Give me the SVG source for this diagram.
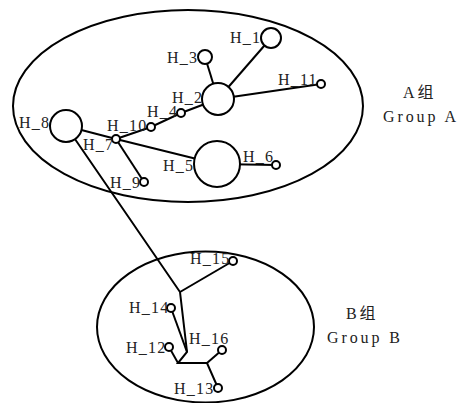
<svg xmlns="http://www.w3.org/2000/svg" width="459" height="403" viewBox="0 0 459 403">
<style>
.grp{fill:none;stroke:#000;stroke-width:2}
.e{stroke:#000;stroke-width:2;fill:none}
.n{fill:#fff;stroke:#000;stroke-width:2}
text{font-family:'Liberation Serif','Noto Sans CJK SC',serif;font-size:16px;fill:#222}
.l{letter-spacing:1.2px}
.g{letter-spacing:2.9px}
</style>
<rect width="459" height="403" fill="#fff"/>
<g id="groupA"><ellipse class="grp" cx="188" cy="106" rx="175" ry="96"/>
<text class="g" x="403" y="98">A组</text><text class="g" x="383" y="122">Group A</text></g>
<g id="groupB"><ellipse class="grp" cx="205.5" cy="327" rx="108.5" ry="75.5"/>
<text class="g" x="346" y="319">B组</text><text class="g" x="327" y="343">Group B</text></g>
<g id="connectors">
<line class="e" x1="218" y1="99" x2="271" y2="38"/>
<line class="e" x1="218" y1="99" x2="205" y2="57"/>
<line class="e" x1="218" y1="99" x2="321" y2="84"/>
<polyline class="e" points="218,99 181,113 151,127 116,139"/>
<line class="e" x1="116" y1="139" x2="66" y2="126"/>
<line class="e" x1="116" y1="139" x2="217" y2="164"/>
<line class="e" x1="116" y1="139" x2="144" y2="182"/>
<line class="e" x1="217" y1="164" x2="276" y2="165"/>
<polyline class="e" points="66,126 180,292 187,352 178,363 207,363 218,388"/>
<line class="e" x1="180" y1="292" x2="233" y2="261"/>
<line class="e" x1="187" y1="352" x2="171" y2="308"/>
<line class="e" x1="178" y1="363" x2="169" y2="347"/>
<line class="e" x1="207" y1="363" x2="222" y2="350"/>
</g>
<g id="H_1"><circle class="n" cx="271" cy="38" r="10"/><text class="l" x="230" y="43">H_1</text></g>
<g id="H_2"><circle class="n" cx="218" cy="99" r="16"/><text class="l" x="172" y="103">H_2</text></g>
<g id="H_3"><circle class="n" cx="205" cy="57" r="7"/><text class="l" x="167" y="63">H_3</text></g>
<g id="H_4"><circle class="n" cx="181" cy="113" r="4"/><text class="l" x="147" y="117">H_4</text></g>
<g id="H_5"><circle class="n" cx="217" cy="164" r="23"/><text class="l" x="163" y="171">H_5</text></g>
<g id="H_6"><circle class="n" cx="276" cy="165" r="4"/><text class="l" x="243" y="162">H_6</text></g>
<g id="H_7"><circle class="n" cx="116" cy="139" r="4"/><text class="l" x="83" y="150">H_7</text></g>
<g id="H_8"><circle class="n" cx="66" cy="126" r="16"/><text class="l" x="19" y="128">H_8</text></g>
<g id="H_9"><circle class="n" cx="144" cy="182" r="4"/><text class="l" x="110" y="188">H_9</text></g>
<g id="H_10"><circle class="n" cx="151" cy="127" r="4"/><text class="l" x="107" y="131">H_10</text></g>
<g id="H_11"><circle class="n" cx="321" cy="84" r="4"/><text class="l" x="278" y="85">H_11</text></g>
<g id="H_12"><circle class="n" cx="169" cy="347" r="4"/><text class="l" x="126" y="353">H_12</text></g>
<g id="H_13"><circle class="n" cx="218" cy="388" r="4"/><text class="l" x="174" y="394">H_13</text></g>
<g id="H_14"><circle class="n" cx="171" cy="308" r="4"/><text class="l" x="129" y="313">H_14</text></g>
<g id="H_15"><circle class="n" cx="233" cy="261" r="4"/><text class="l" x="190" y="264">H_15</text></g>
<g id="H_16"><circle class="n" cx="222" cy="350" r="4"/><text class="l" x="189" y="344">H_16</text></g>
</svg>
